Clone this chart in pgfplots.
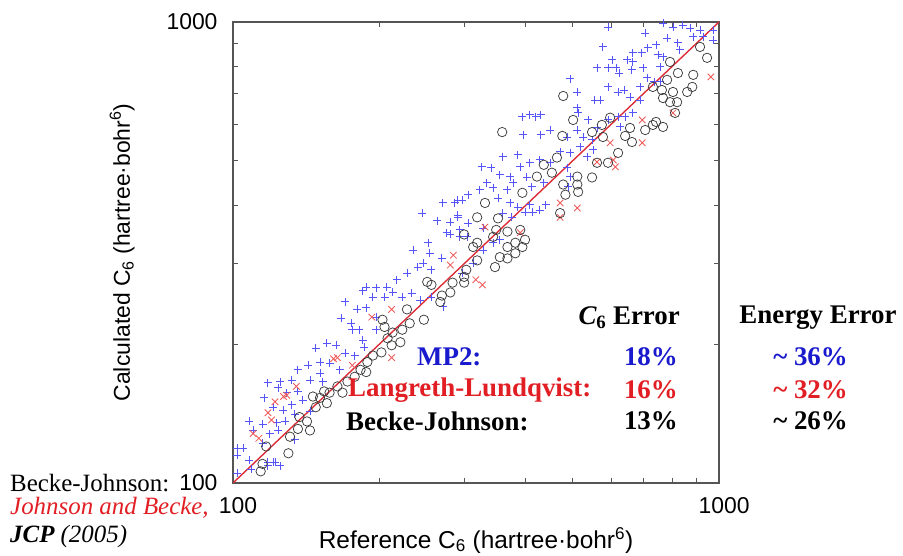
\documentclass[border=0pt]{standalone}
\usepackage{fontspec}
\setmainfont{Liberation Sans}
\newfontfamily\tnr{Liberation Serif}
\usepackage{pgfplots}
\pgfplotsset{compat=1.18}
\definecolor{mpblue}{RGB}{85,85,250}
\definecolor{llred}{RGB}{238,90,90}
\definecolor{bjgray}{RGB}{60,60,60}
\definecolor{diagred}{RGB}{220,45,55}
\definecolor{txtblue}{RGB}{25,25,205}
\definecolor{txtred}{RGB}{225,30,35}
\definecolor{axgray}{RGB}{85,85,85}
\begin{document}
\begin{tikzpicture}[x=1bp,y=1bp]
\path[use as bounding box] (0,0) rectangle (903,556);
\begin{axis}[
  at={(233bp,73bp)}, anchor=south west,
  scale only axis, width=486bp, height=461bp,
  xmode=log, ymode=log,
  xmin=100, xmax=1000, ymin=100, ymax=1000,
  xtick={100,1000}, xticklabels={100,1000},
  ytick={100,1000}, yticklabels={100,1000},
  minor xtick={200,300,400,500,600,700,800,900},
  minor ytick={200,300,400,500,600,700,800,900},
  tick align=inside, major tick length=0bp, minor tick length=5bp,
  axis line style={line width=1.4pt, axgray},
  every tick/.style={axgray, line width=0.8pt},
  ticklabel style={font=\fontsize{23}{26}\selectfont},
  xticklabel style={xshift=5bp, yshift=-11bp},
  yticklabel style={xshift=-12bp},
  every axis x label/.style={at={(axis description cs:0.5,-0.124)}, anchor=center, font=\fontsize{24.5}{27}\selectfont},
  every axis y label/.style={at={(axis description cs:-0.228,0.5)}, anchor=center, rotate=90, font=\fontsize{23}{26}\selectfont},
  xlabel={Reference C\textsubscript{6} (hartree·bohr\textsuperscript{6})},
  ylabel={Calculated C\textsubscript{6} (hartree·bohr\textsuperscript{6})},
  clip=true,
]
% MP2
\addplot[only marks, mark=+, mark size=4bp, color=mpblue, mark options={solid, draw=mpblue, line width=0.95pt}] coordinates {
(591,975)(705,946)(767,995)(804,975)(843,985)(872,970)(914,960)(972,960)(885,928)(927,928)(972,914)(782,923)(823,901)(742,892)(665,857)(714,879)(577,883)(694,857)(749,849)(767,840)(647,828)(603,828)(665,819)(561,795)(591,795)(614,795)(623,775)(662,787)(698,795)(756,799)(831,870)(494,753)(511,705)(555,677)(569,677)(591,723)(620,705)(638,712)(656,687)(688,677)(688,723)(711,757)(735,742)(756,742)(511,651)(513,635)(420,623)(430,629)(394,623)(408,629)(396,569)(430,569)(449,583)(487,563)(511,583)(525,563)(538,613)(548,555)(561,589)(591,613)(620,623)(641,623)(626,592)(665,635)(471,523)(494,520)(536,510)(551,528)(518,536)(359,510)(385,515)(390,485)(408,495)(428,502)(449,495)(325,485)(340,483)(354,466)(372,462)(377,448)(402,460)(412,439)(436,448)(367,433)(343,437)(333,448)(322,433)(290,411)(305,422)(351,415)(372,405)(385,397)(408,401)(414,387)(399,387)(375,377)(428,391)(494,462)(487,483)(489,439)(440,401)(290,381)(305,366)(359,385)(327,357)
(270,405)(286,405)(296,411)(245,385)(263,371)(280,368)(290,377)(275,349)(293,354)
(280,346)(293,342)(252,332)(235,320)(254,315)(269,307)(246,300)(256,290)(240,294)(228,285)(217,276)(207,266)(213,259)(197,265)(188,266)(185,261)(194,253)(205,253)(223,253)(233,258)(243,249)(256,253)(271,241)(170,247)(180,238)(188,240)(197,229)(167,228)(175,222)(182,215)(176,215)(197,215)(185,204)(156,201)(148,196)(163,199)(170,191)(178,189)(186,197)(151,183)(158,182)(166,176)(143,180)(151,173)(153,166)(144,167)(136,176)(132,167)(125,166)(118,165)(124,161)(129,157)(136,158)(139,151)(132,148)(127,144)(121,146)(116,153)(134,141)(128,136)(123,135)(124,130)(119,128)(115,134)(108,136)(110,130)(115,122)(118,111)(121,111)(108,112)(102,119)(134,124)(144,143)
(102,115)(102,105)(118,109)(122,111)(125,109)(109,107)(105,119)
(303,342)(327,320)(312,300)(296,285)(343,332)(354,337)
};
% Langreth-Lundqvist
\addplot[only marks, mark=x, mark size=4.6bp, color=llred, mark options={solid, draw=llred, line width=0.85pt}] coordinates {
(962,760)(804,635)(695,547)(597,547)(695,613)(561,497)(606,502)(612,485)(471,405)(511,395)(471,377)(330,359)(280,297)(284,312)(316,276)(212,238)(193,229)(212,187)(176,180)(164,187)(161,186)(135,162)(129,155)(127,154)(122,150)(118,142)(120,137)(110,128)(113,125)(326,269)(390,349)
};
% Becke-Johnson
\addplot[only marks, mark=o, mark size=4.7bp, color=bjgray, mark options={solid, draw=bjgray, fill=none, line width=0.75pt}] coordinates {
(358,577)(478,691)(501,613)(476,566)(548,577)(574,598)(597,620)(577,563)(656,589)(641,566)(662,549)(705,583)(731,598)(742,607)(767,592)(731,723)(763,712)(767,684)(793,670)(804,705)(820,670)(793,819)(823,775)(782,749)(860,705)(881,723)(885,768)(914,883)(945,836)(812,635)(620,520)(591,495)(561,495)(548,460)(511,462)(511,444)(513,428)(478,444)(483,422)(464,508)(436,490)(453,471)(422,462)(394,426)(330,405)(318,377)(351,375)(348,354)(367,351)(390,354)(299,346)(471,385)
(312,325)(302,290)(318,304)(299,280)(283,272)(280,259)(269,255)(256,269)(251,273)(247,226)(267,247)(228,238)(231,222)(223,215)(213,212)(205,218)(203,226)(208,206)(221,202)(212,199)(202,192)(194,189)(189,183)(188,174)(183,176)(178,170)(172,166)(168,157)(164,162)(158,157)(154,158)(151,153)(156,149)(148,146)(146,154)(142,136)(137,139)(144,130)(136,131)(131,126)(130,116)(117,120)(115,110)(114,106)
(354,309)(346,294)(367,307)(381,315)(394,325)(399,337)(381,332)(367,325)(299,272)(318,332)(343,342)
};
% y = x
\addplot[diagred, line width=1.4pt] coordinates {(100,100)(1000,1000)};
\end{axis}
% table of errors
\begin{scope}[every node/.style={inner sep=0pt, font=\tnr\bfseries\fontsize{27}{30}\selectfont}]
\node[anchor=east] at (680,238) {{\itshape C}\textsubscript{6} Error};
\node[anchor=center] at (818,238) {Energy Error};
\node[anchor=west, txtblue] at (417,199) {MP2:};
\node[anchor=east, txtblue] at (678,199) {18\%};
\node[anchor=east, txtblue] at (848,199) {\textasciitilde{} 36\%};
\node[anchor=west, txtred] at (348,166) {Langreth-Lundqvist:};
\node[anchor=east, txtred] at (678,166) {16\%};
\node[anchor=east, txtred] at (848,166) {\textasciitilde{} 32\%};
\node[anchor=west] at (346,135) {Becke-Johnson:};
\node[anchor=east] at (678,135) {13\%};
\node[anchor=east] at (848,135) {\textasciitilde{} 26\%};
\end{scope}
% citation
\begin{scope}[every node/.style={inner sep=0pt, anchor=west, font=\tnr\fontsize{25}{28}\selectfont}]
\node at (10,73) {Becke-Johnson:};
\node[txtred] at (10,48) {\itshape Johnson and Becke,};
\node at (10,19) {{\bfseries\itshape JCP} \itshape (2005)};
\end{scope}
\end{tikzpicture}
\end{document}
